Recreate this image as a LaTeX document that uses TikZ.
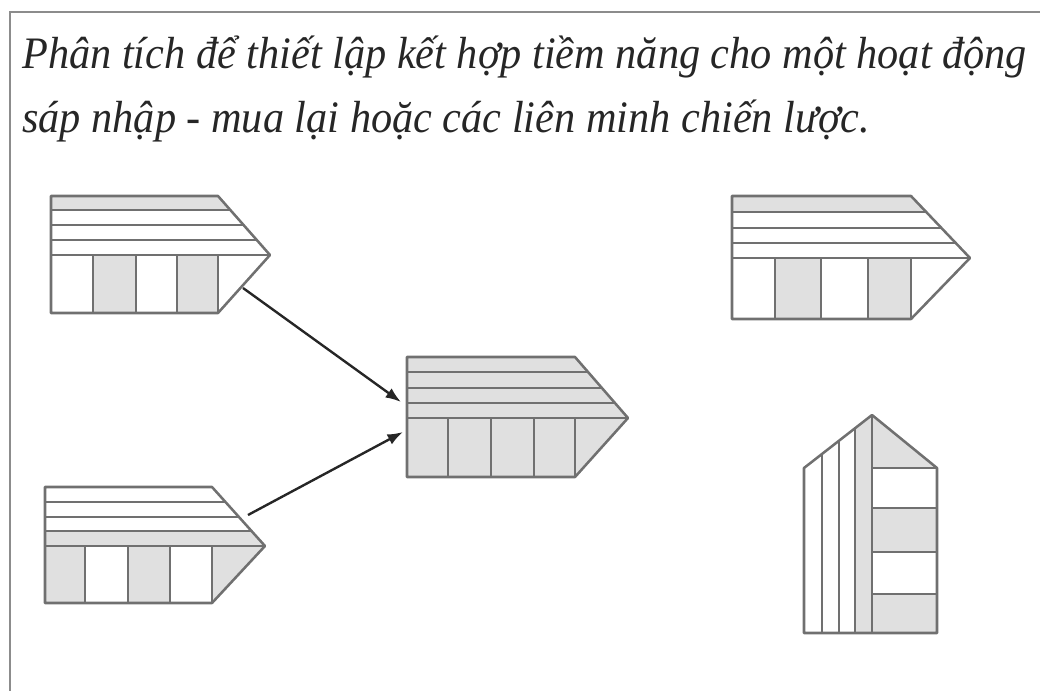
\documentclass[tikz,border=0pt]{standalone}
\usepackage{fontspec}
\newfontfamily\titlefont[FakeStretch=0.94]{Liberation Serif}
\usetikzlibrary{arrows.meta}
\definecolor{shade}{HTML}{E0E0E0}
\definecolor{rule}{HTML}{707070}
\begin{document}
\begin{tikzpicture}[x=0.025cm,y=-0.025cm]
       \tikzstyle{frame}=[draw=black!45, line width=2pt]
       \tikzstyle{part}=[draw=rule, line width=1.8pt, line join=round]
       \tikzstyle{filled}=[fill=shade]
       \tikzstyle{title}=[anchor=base west, inner sep=0pt, font=\titlefont\itshape\fontsize{32}{42}\selectfont, text=black!85]
       \tikzstyle{link}=[draw=black!85, line width=1.7pt, -{Latex[length=11pt,width=8pt]}]
       \useasboundingbox (0,0) rectangle (1040,691);
       \draw[frame] (10,691) -- (10,12) -- (1040,12);
       \node[title] (line1) at (22,68) {Phân tích để thiết lập kết hợp tiềm năng cho một hoạt động};
       \node[title] (line2) at (22,132) {sáp nhập - mua lại hoặc các liên minh chiến lược.};
       % buyer, top left
       \fill[filled] (51,196) -- (218,196) -- (230.3,210) -- (51,210) -- cycle;
       \fill[filled] (93,255) rectangle (136,313);
       \fill[filled] (177,255) rectangle (218,313);
       \draw[part] (51,196) -- (218,196) -- (270,255) -- (218,313) -- (51,313) -- cycle;
       \draw[part] (51,210) -- (230.3,210) (51,225) -- (243.6,225) (51,240) -- (256.8,240) (51,255) -- (270,255);
       \draw[part] (93,255) -- (93,313) (136,255) -- (136,313) (177,255) -- (177,313) (218,255) -- (218,313);
       % target, bottom left
       \fill[filled] (45,531) -- (251.5,531) -- (265,546) -- (45,546) -- cycle;
       \fill[filled] (45,546) rectangle (85,603);
       \fill[filled] (128,546) rectangle (170,603);
       \fill[filled] (212,546) -- (265,546) -- (212,603) -- cycle;
       \draw[part] (45,487) -- (212,487) -- (265,546) -- (212,603) -- (45,603) -- cycle;
       \draw[part] (45,502) -- (225.5,502) (45,517) -- (238.9,517) (45,531) -- (251.5,531) (45,546) -- (265,546);
       \draw[part] (85,546) -- (85,603) (128,546) -- (128,603) (170,546) -- (170,603) (212,546) -- (212,603);
       % combined, middle
       \fill[filled] (407,357) -- (575,357) -- (628,418) -- (575,477) -- (407,477) -- cycle;
       \draw[part] (407,357) -- (575,357) -- (628,418) -- (575,477) -- (407,477) -- cycle;
       \draw[part] (407,372) -- (588,372) (407,388) -- (601.9,388) (407,403) -- (615,403) (407,418) -- (628,418);
       \draw[part] (448,418) -- (448,477) (491,418) -- (491,477) (534,418) -- (534,477) (575,418) -- (575,477);
       % partner, top right
       \fill[filled] (732,196) -- (911,196) -- (926.2,212) -- (732,212) -- cycle;
       \fill[filled] (775,258) rectangle (821,319);
       \fill[filled] (868,258) rectangle (911,319);
       \draw[part] (732,196) -- (911,196) -- (970,258) -- (911,319) -- (732,319) -- cycle;
       \draw[part] (732,212) -- (926.2,212) (732,228) -- (941.5,228) (732,243) -- (955.7,243) (732,258) -- (970,258);
       \draw[part] (775,258) -- (775,319) (821,258) -- (821,319) (868,258) -- (868,319) (911,258) -- (911,319);
       % partner, turned
       \fill[filled] (855,428.3) -- (872,415) -- (872,633) -- (855,633) -- cycle;
       \fill[filled] (872,415) -- (937,468) -- (872,468) -- cycle;
       \fill[filled] (872,508) rectangle (937,552);
       \fill[filled] (872,594) rectangle (937,633);
       \draw[part] (804,633) -- (804,468) -- (872,415) -- (937,468) -- (937,633) -- cycle;
       \draw[part] (822,454) -- (822,633) (839,440.7) -- (839,633) (855,428.3) -- (855,633) (872,415) -- (872,633);
       \draw[part] (872,468) -- (937,468) (872,508) -- (937,508) (872,552) -- (937,552) (872,594) -- (937,594);
       % arrows
       \coordinate (from1) at (243,288);
       \coordinate (to1) at (401,402);
       \coordinate (from2) at (248,515);
       \coordinate (to2) at (403,432);
       \draw[link] (from1) -- (to1);
       \draw[link] (from2) -- (to2);
      \end{tikzpicture}
\end{document}
